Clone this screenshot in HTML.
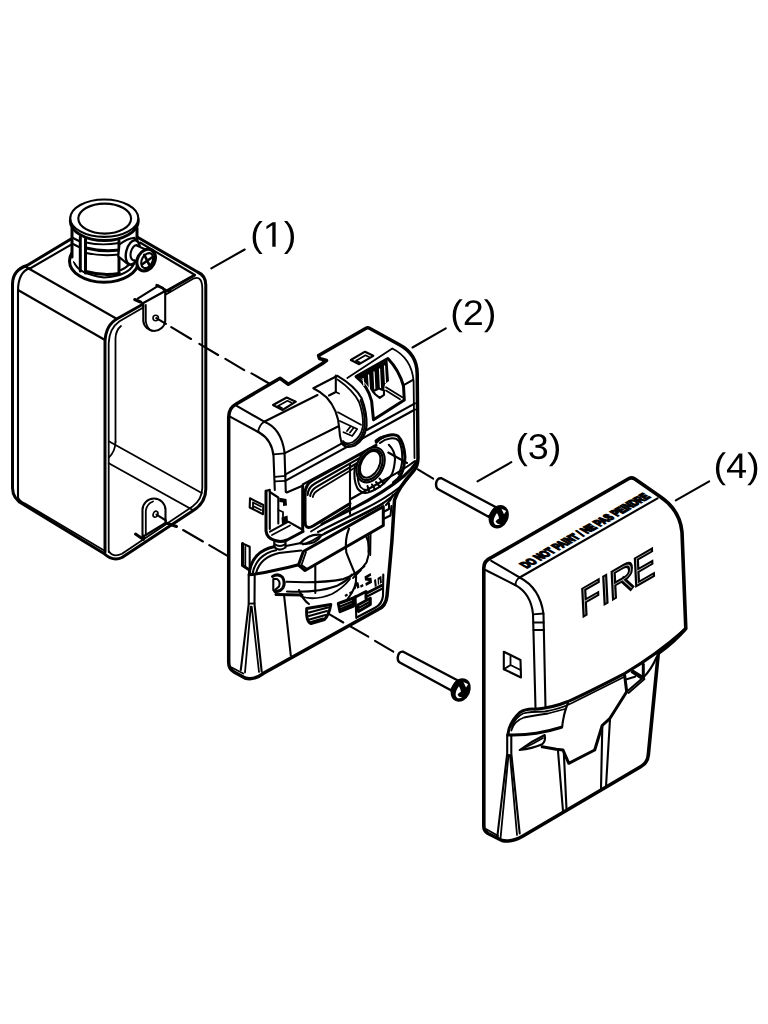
<!DOCTYPE html>
<html><head><meta charset="utf-8">
<style>
html,body{margin:0;padding:0;background:#fff;}
body{width:768px;height:1024px;overflow:hidden;font-family:"Liberation Sans",sans-serif;}
svg{display:block;position:absolute;left:0;top:0;}
.t{fill:none;stroke:#000;stroke-width:3;stroke-linecap:round;stroke-linejoin:round;}
.m{fill:none;stroke:#000;stroke-width:2.1;stroke-linecap:round;stroke-linejoin:round;}
.n{fill:none;stroke:#000;stroke-width:1.8;stroke-linecap:round;stroke-linejoin:round;}
.w{fill:#fff;}
text{font-family:"Liberation Sans",sans-serif;fill:#000;}
</style></head><body>
<svg width="768" height="1024" viewBox="0 0 768 1024">
<rect width="768" height="1024" fill="#fff"/>
<!-- ===== PART 1 : BACK BOX ===== -->
<g id="box">
<!-- outer silhouette -->
<path class="t" d="M71,239 L27,265.5 Q12.7,270 12.5,284 L12.5,488 Q12.7,499 23.5,504.5 L104,553.5 Q113,562 122,557.5 L192.5,511 Q205.8,503 205.8,489 L205.8,285 Q205.8,275.5 197.5,272 L138,237.5"/>
<path class="m" d="M30,268.5 L72.5,243.8 M140,242.5 L195,275"/>
<!-- left face fillet lines -->
<path class="m" d="M26,267 L117,319"/>
<path class="m" d="M18,290 L105,340"/>
<path class="m" d="M18,497 L18,291 Q18,272 30,268"/>
<path class="n" d="M18,497 Q19,501 25,503.5 L105,551"/>
<!-- front rim -->
<path class="t" d="M105,552 L105,342 Q105.5,325 117.5,318.5 L194,275.5"/>
<path class="n" d="M108.7,552 L108.7,343 Q109.3,328.5 119.5,321.3 L194,278.3 Q202.3,275.5 202.3,289 L202.3,488 Q202,499.5 192.5,506.5 L122,553.8 Q113,558 108.7,551"/>
<path class="n" d="M115.5,442 L115.5,338 Q116,330 121,326"/>
<path class="n" d="M115.5,442 Q115,452 108.8,457.5"/>
<path class="n" d="M108.8,441.3 L201.7,493"/>
<path class="n" d="M108.8,463.3 L192.5,509.8"/>
</g>
<!-- hub -->
<g id="hub">
<!-- base flange -->
<ellipse class="t w" cx="104" cy="261" rx="34.5" ry="21.3"/>
<path class="m" d="M74,262 Q78,274 104,277.5 Q128,276 134,264"/>
<!-- body -->
<path class="w" d="M71.6,222 L71.6,258 Q80,272 104,274 Q128,272 137,258 L137,222 Z"/>
<path class="t" d="M72,228 L72,257"/>
<path class="t" d="M137,228 L137,243"/>
<path class="t" d="M80.3,237 L80.3,271"/>
<path class="t" d="M85.5,239 L85.5,273"/>
<path class="t" d="M119,241 L119,274"/>
<path class="t" d="M86,271.5 Q102,276 119,273.5"/>
<path class="n" d="M86,242.5 Q102,246 119,243"/>
<path class="t" d="M86,248 Q102,252 119,250"/>
<path class="n" d="M86,253 Q102,256.5 119,254.5"/>
<path class="m" d="M73,238 L79,241 M73,244 L79,247"/>
<path class="m" d="M121,270 Q130,266 134,258"/>
<!-- rim -->
<ellipse class="t w" cx="104.3" cy="220.7" rx="34" ry="19.8"/>
<ellipse class="m w" cx="104.3" cy="218.2" rx="34" ry="18.7"/>
<ellipse class="m" cx="104.7" cy="218.6" rx="26.4" ry="15"/>
<!-- boss -->
<path class="m w" d="M119.5,244.5 Q127,238.5 134.5,237.8 L139,250 L132,265 L127.6,264 L118.3,256.4 Z"/>
<ellipse class="m w" style="stroke-width:2.4" cx="132.8" cy="252.4" rx="6.6" ry="12.4" transform="rotate(14 132.8 252.4)"/>
<ellipse class="m w" cx="135.3" cy="252.8" rx="4.5" ry="7.8" transform="rotate(14 135.3 252.8)"/>
<path class="w" d="M136.5,246 L145,249.5 L140,264.5 L134.8,260 Z"/>
<path class="m" d="M136.8,245.6 L144.5,249"/>
<path class="m" d="M134.6,260.3 L139.5,264"/>
<ellipse class="t w" style="stroke-width:3.2" cx="146.1" cy="260.1" rx="8.6" ry="11.4" transform="rotate(28 146.1 260.1)"/>
<ellipse class="m" cx="147.2" cy="260.6" rx="5.3" ry="8" transform="rotate(28 147.2 260.6)"/>
<path d="M144.3,254.8 L150.3,266.8 M142.6,264 L152.2,257.2" fill="none" stroke="#000" stroke-width="2.6" stroke-linecap="round"/>
</g>
<!-- ears -->
<g id="ears">
<path class="w" d="M139.7,302.5 L162.5,289.5 L158.5,285.3 L136.5,298.5 Z"/>
<path class="m" d="M137.7,298.7 L158.5,285.6"/>
<path class="m w" d="M143.3,303 L143.3,321 A11,11 0 0 0 165.2,321 L165.2,291 Z"/>
<path class="n" d="M145.8,305 L145.8,321 Q146.5,328 152,331"/>
<path class="t" d="M134.7,299.5 L140.5,302"/>
<path class="m" d="M140.5,302 Q143.5,303 143.3,307"/>
<path class="t" d="M156.8,285.3 L162.5,288"/>
<path class="m" d="M162.5,288 L165.2,292 M162.5,288 L168.5,291.7 L170.3,290"/>
<circle cx="155.7" cy="318" r="2.7" fill="#fff" stroke="#000" stroke-width="1.6"/>
<path class="m w" d="M142.5,537 L142.5,510 A11.5,11.5 0 0 1 165.5,510 L165.5,523 Z"/>
<path class="n" d="M145.8,534 L145.8,511 Q146.5,504 153,501.5"/>
<path class="t" d="M135.5,534 L143.5,539.5 L143.5,536"/>
<path class="t" d="M166,522.8 L176.5,526.5"/>
<ellipse cx="155.5" cy="514.2" rx="2.3" ry="3.1" transform="rotate(20 155.5 514.2)" fill="#fff" stroke="#000" stroke-width="1.6"/>
</g>
<!--P2--><!-- ===== PART 2 : MOUNTING PLATE ===== -->
<g id="plate">
<!-- silhouette -->
<path class="t w" style="stroke-width:3.5" d="M228.7,662 L228.7,417 Q228.7,408 235.8,404.2 L280,378.3 L288.3,384.2 L322,363.7 L326.5,360.5 L319.5,358.5 L318.6,355.4 L366,328.3 Q367.8,327.4 369.5,328.3 L399,344.5 Q417.2,354 417.2,374 L418,458 Q418,466 413.5,471 Q398,488 394.5,500 L392,540 L387,596 Q386,606 378,609.5 L263.5,673.3 Q254,680.5 245,678 L234,672 Q228.7,669 228.7,662 Z"/>
<!-- top face -->
<path class="m" d="M236.7,405.8 L264.2,421.7 L317.5,395"/>
<path class="m" d="M230,416.7 L259.2,432.5"/>
<path class="m" d="M264.2,421.7 Q281,428 284.5,452 L285.8,492"/>
<path class="m" d="M259.2,432.5 Q252,426 264.2,421.7" style="display:none"/>
<path class="m" d="M259.2,432.5 Q272,440 273.5,456 L274.8,490"/>
<path class="n" d="M258,432 Q259,425 264.2,421.7"/>
<path class="n" d="M273.5,454.3 L284.4,453.4 M275,476.8 L285.6,475.8 M275,481.4 L285.7,480.8"/>
<path class="m" d="M284.4,453.4 L337.5,426.7"/>
<path class="m" d="M285.6,474.4 L341.5,443.7 M366.7,430 L415,403.3"/>
<path class="m" d="M285.7,480.7 L415,409.5"/>
<!-- small square holes -->
<path class="m" d="M273,405 L286.7,397.5 L295.8,401.7 L282.5,410 Z"/>
<path class="n" d="M278,406 L287.5,400.8 L291.5,402.8 M278,406 L282,408"/>
<path class="m" d="M350.8,360 L365,351.7 L373.3,355.8 L359.2,364.2 Z"/>
<path class="n" d="M356,360.8 L365.5,355.3 L369.5,357.2 M356,360.8 L360,362.6"/>
<!-- right inner outline -->
<path class="n" d="M347.3,378 L392.3,348.5 Q411.5,358 413.6,381 L414.5,458"/>
<path class="m" d="M404.1,384.8 L413,379.8"/>
<!-- crescent cut-out -->
<path class="m w" d="M313.3,388.3 L337.5,375.8 Q355,386 361.5,398 Q367,412 366.6,426 Q364.5,440 354.7,445.5 Q346,449 341.7,443.3 Q339.5,436 339.2,428 Q338,410 326.7,397.5 Q321,392 313.3,388.3 Z"/>
<path class="n" d="M337.5,379.5 Q353,390 359,402 Q363.5,414 363,426 Q361,437 353,442 Q346,445 343,441"/>
<path class="n" d="M360.5,400 Q365.2,413 364.8,426 Q363,438.5 354,443.8 Q347,447 342.5,442.5"/>
<path class="m" d="M335.8,375.5 L335.8,392 L329,395.5"/>
<path class="n" d="M335.8,392 L339,393.5"/>
<path class="n" d="M338,412.3 L361,424.8"/>
<path class="n" d="M339.8,421 L357.2,429 L352.2,436 L343.5,432.2"/>
<path class="n" d="M347,431 L350.5,426.5 M350,432.5 L353.5,428"/>
<!-- terminal cavity -->
<path class="t" d="M356,376.6 L387.9,358.5 Q399,370 403.5,386 L404.3,400 L373.5,419.8 L371.6,401 Q368,386 356,376.6 Z"/>
<path d="M357.5,376.8 L387.5,360 L389,381 L385,384 L384,391 L373,393.5 Q366,382 357.5,376.8 Z" fill="#000"/>
<path d="M363,378 L364,386 M368.5,374.5 L369.5,390 M374,371.5 L375,393 M379.5,368.5 L380.5,389 M384.5,365.5 L385.5,383" stroke="#fff" stroke-width="1.2" fill="none"/>
<path class="m w" d="M373.5,391 L379,388.5 L384,390.4 L384,394.8 L379.8,397.9 L374.8,394 Z"/>
<path class="n" d="M386,387.3 L402.3,397.3 M386,390.5 L400,399.2"/>

<!-- window -->
<path class="t" d="M305,522.5 L305,494 Q305,484.5 313,480 L376,445.2"/>
<path class="m" d="M307.6,495 Q308,487.5 315,483.5 L376,448.6"/>
<path class="m" d="M310.2,496 Q311,490 317,486.6 L376,452"/>
<path class="n" d="M312.8,497 Q313.5,492.5 319,489.6 L375,455.6"/>
<path class="m" d="M302.7,484.5 L340,464.5"/>
<path class="t" d="M305,522.5 Q305.5,530 313,526 L350,503.5"/>
<path class="n" d="M311,531.5 L350,507"/>
<path class="m" d="M350,464 L350,514"/>
<!-- bracket -->
<path class="t" d="M266,491 L266,531 Q267,538.5 275,540.5 Q281,542.5 287,540 L303,531.5"/>
<path class="t" d="M302.7,486 L302.7,531"/>
<path class="m" d="M266,491 L269.8,489.8 L269.8,529"/>
<path class="m" d="M269.8,492 L278.3,497.5 L278.3,523.5"/>
<path class="m" d="M286.7,492.5 L302.5,485.8"/>
<path class="m" d="M270,531.7 L288.3,521.7 L303,530"/>
<path class="n" d="M272,535 L290,525.5"/>
<path d="M279.3,497.8 L286.5,499 L287,505.5 L283,506 L283,502.5 L279.3,502 Z M281.5,517.5 L287.5,515.5 L288,521.5 L282,524.5 Z" fill="#000"/>
<path class="n" d="M278.3,510 L283,512 L283,517"/>
<!-- neck -->
<path class="m" d="M274.3,541 L274.3,547 Q279,552 285.5,547.5 L285.5,541.5"/>
<path class="n" d="M274.3,544 Q280,548 285.5,544"/>
<!-- arch -->
<path class="t" d="M249.2,574.5 Q250,563 257,555.5 Q264,548.5 274,546.8"/>
<path class="m" d="M252.5,574 Q254,565 260,558.5 Q267,552 276,550.3"/>
<path class="m" d="M256,573.5 Q258,565 264,560 Q270,555 279,553 L301,550.5"/>
<path class="t" d="M249.2,574.8 Q262,573.5 275,570.3 Q287,568 298.5,564.8"/>
<path class="m" d="M285.8,546 L301,543"/>
<path class="m" d="M300,543.3 Q310,533 321.7,535 Q315,546 300,543.3 Z"/>
<path class="n" d="M303,544.5 Q313,541 320,536"/>
<!-- bar -->
<path class="t" d="M303.3,551.5 L298.5,565 L305,570.5 L383.3,525.5 L383.3,506.5 Z" />
<path class="n" d="M306,552 L301.5,565 L306.5,568.5"/>
<path class="m" d="M325,533.3 L383.3,503.5"/>
<!-- chin curves -->
<path class="m" d="M350,499.5 L386,479 Q403,470 415,461"/>
<path class="t" d="M322,524 L352,509 Q385,492 404,476 Q412,469 416.5,462"/>
<path class="m" d="M318,532 L355,513.5 Q384,500 400,487 Q408,480 413,471"/>
<path class="m" d="M322,535 L356,518 Q384,505 397,492"/>
<path class="m" d="M383.3,512 L389,509 L389,501 M383.3,519 L390.5,515.5 L391.5,506 M386,505 Q391,500 393,495"/>
<!-- lens -->
<path class="t" d="M376.3,442.3 Q381,437 387,435.8 Q394,433.5 398,436 Q404,442 405,457 Q404.5,468 401,474.5 Q398,480 393.5,482.5"/>
<path class="m" d="M380,443 Q385,439 390,438.5 Q396,437.5 399,441 Q402.5,448 402.3,458 Q402,468 398.5,474"/>
<path class="m" d="M388.8,444.8 Q395,451 395,459 Q394.5,468 392,474 Q389,479 385,482.3"/>
<path class="m" d="M355,466 Q353,480 357.5,488.5 Q362,494 368,492.5 Q378,489.5 385,482.3"/>
<path class="n" d="M358,470 Q356.5,481 360.5,487 Q364,491 369,489.5"/>
<ellipse class="m w" cx="370.6" cy="464.8" rx="12.8" ry="18.5" transform="rotate(27 370.6 464.8)"/>
<ellipse class="m" cx="370.6" cy="464.8" rx="10.8" ry="16.3" transform="rotate(27 370.6 464.8)"/>
<ellipse class="m" cx="370.2" cy="464.3" rx="9" ry="14.3" transform="rotate(27 370.2 464.3)"/>
<path class="t" d="M376,441 Q380,437.5 383.5,437"/>
<path class="m" d="M367.5,486 L369,491 M372,484.5 L375,489.5 M376,482 L380,487 M379.5,478.5 L384,483.5"/>

<!-- side details -->
<path class="m" d="M250,498.3 L263.3,505 L263,514.2 L249.7,507.5 Z"/>
<path class="n" d="M253,502.5 L253,508.3 M253,502.5 L261,506.5 M253,506 L261,510"/>
<path class="t" d="M242.5,543.5 L242.5,565.5 L249.5,570"/>
<path class="m" d="M242.5,543.5 L249.7,546.7 L249.7,570"/>
<path class="n" d="M245.3,547 L245.3,566"/>
<!-- lower column & V rib -->
<path class="m" d="M248.7,575 L248.7,604.2 L240.8,670"/>
<path class="m" d="M254.7,574 L254.5,604.2 L261.7,671.7"/>
<path class="n" d="M248.7,603.7 L254.6,603.5"/>
<path class="n" d="M250.8,606.7 L245,672.5 M251.7,606.7 L259,672"/>
<path class="n" d="M231.7,667.5 L243.3,673.5"/>
<path class="m" d="M284.2,596.7 L290.8,655.5"/>
<!-- D ring -->
<path class="t" d="M272.5,576.5 Q278,573 282.3,577 Q285.8,582.5 282.8,588 Q280,592 275,591.5"/>
<path class="m" d="M273.3,579 L273.3,590 L276.5,593.5 M273.3,579 L277,579 Q281,582 279,586.5 L275.5,589.5"/>
<path class="t" d="M276,594.5 L302,595"/>
<!-- horizontal bar from ring -->
<path class="m" d="M286.5,581.8 Q320,583.5 343.4,579.1 Q360,573 366.6,562.2 Q372,548 365.9,535.5"/>
<path class="m" d="M315.3,566 L315.3,593"/>
<path class="m" d="M287,591.5 Q318,593 336.4,586.1 Q347,581 352,574.5"/>
<!-- dome -->
<path class="m" d="M349,528.5 Q344.5,540 346.3,552.3 Q350,562 356.1,576.3 Q357,587 347.7,598.8"/>
<path class="n" d="M370.6,534 L370.3,555 M368.6,536 L368.4,552"/>
<path class="n" d="M301,596.5 Q315,601 332,594 Q343,588 350,579"/>
<path class="n" d="M357.5,572 L364.5,566.4 M353,578 L361,570"/>
<path class="m" d="M299,590 Q303,600 309,604"/>
<!-- vents -->
<path class="t" d="M306.7,608.5 L330.8,604.5 Q329,615 324.5,619.5 L311,623.5 Q306,622 306.7,608.5 Z"/>
<path class="m" d="M309,612.5 L328,607.5 M309,616 L327,611 M309.5,619.5 L325.5,615 M311,622 L323,618.5"/>
<path class="t" d="M338.3,603.5 L353.5,598 L353.5,606 L340,611.7 Z"/>
<path class="m" d="M340,606.5 L352.5,601.5 M340.5,609 L352.5,604"/>
<path class="t" d="M357.8,605 L370.3,598.3 L370.3,604.5 L358.5,611.5 Z"/>
<path class="m" d="M359.5,607.5 L369.5,602"/>
<path class="t" d="M353.5,598 L366,591.5 L366,598.5 M366,593.5 L381.5,585.5"/>
<path class="m" d="M366,597 L382.5,588.5"/>
<path class="m" d="M355.5,596 L356.3,618"/>
<!-- blobs (small text) -->
<path transform="translate(-1.5,7)" d="M346,588 l2.5,-1.5 l1,2 l-2.5,1.5z M350.5,585.5 l2.5,-1.5 l1,2 l-2.5,1.5z M355,582 l3,-7 l2,0.5 l1,5 l-2.2,1.3 l-0.8,-3 l-1,3.5z M361.5,578.5 l2.8,-1.5 l0.8,2.2 l-2.8,1.5z M366,569.5 l6,-3.5 l0.8,2.5 l-3.8,2.2 l4,0 l0.5,5 l-6,3.2 l-0.8,-2.6 l3.8,-2.2 l-4,-0.5z M375.5,573 l2,-1 l0.8,7 l-2,1z M379,571 l3.8,-2.2 l0.6,7 l-1.8,1 l-0.4,-4.5 l-0.8,0.5 l0.4,4.5 l-1.4,0.8z" fill="#000"/>
<!-- right inner edge lower -->
<path class="m" d="M383.3,574.5 L383,596 Q382,604 375.5,607.5 L357.5,617"/>
</g>
<!--/P2-->
<!--P34--><!-- ===== PART 3 : SCREWS ===== -->
<g id="screws">
<path class="m w" style="stroke-width:2.4" d="M496,507.3 L441.5,478.3 Q436.8,477.5 436,484 Q436,488 438.2,489.2 L489,517 Z"/>
<g transform="translate(0,0)">
<ellipse cx="498.75" cy="516.8" rx="9.6" ry="12.2" transform="rotate(25 498.75 516.8)" fill="#000"/>
<path d="M497,513 Q493.3,518 493.7,522 Q495,527 501,523.9 Q497.2,525 495.6,521.6 Q496.6,519.6 499,518.5 Q498.6,515.5 497,513 Z" fill="#fff"/>
<path d="M501.5,508.8 L506.2,511 L504,514.3 Z" fill="#fff"/>
</g>
<path class="m w" style="stroke-width:2.4" d="M457.9,680.5 L403.2,651.7 Q398.5,651 397.7,657.5 Q397.7,661.5 399.8,662.5 L450.9,690.2 Z"/>
<g transform="translate(-38.05,173.2)">
<ellipse cx="498.75" cy="516.8" rx="9.6" ry="12.2" transform="rotate(25 498.75 516.8)" fill="#000"/>
<path d="M497,513 Q493.3,518 493.7,522 Q495,527 501,523.9 Q497.2,525 495.6,521.6 Q496.6,519.6 499,518.5 Q498.6,515.5 497,513 Z" fill="#fff"/>
<path d="M501.5,508.8 L506.2,511 L504,514.3 Z" fill="#fff"/>
</g>
</g>
<!-- ===== PART 4 : COVER ===== -->
<g id="cover">
<path class="t w" style="stroke-width:3.6" d="M483.8,826 L483.8,568 Q483.8,561 490.5,558 L629,478.5 Q631.7,477 634.5,478.8 L660,496.5 Q680,510 682,532 L685.8,628.5 Q674,642 658.3,653.3 L648.3,755 Q647.5,763 641,766.5 L523,836 Q512,842.5 502,840.5 L488,833.5 Q483.8,831 483.8,826 Z"/>
<!-- top face lines -->
<path class="m" d="M491.3,560.8 L519.7,577.5 L657.5,498.3"/>
<path class="m" d="M485.5,570 L515.5,585.2"/>
<path class="n" d="M515.5,585.2 Q515.5,580 519.7,577.5"/>
<path class="m" d="M519.7,577.5 Q540,588 543.5,614 L545.5,708"/>
<path class="m" d="M515.5,585.2 Q531,594 533,614 L535.5,708"/>
<path class="n" d="M533,614.3 L543.5,613.5 M533.3,622.5 L543.7,622.5 M533.5,630 L544,630"/>
<g transform="matrix(1,-0.575,0.05,1,583.8,614.9)">
<path d="M1.2,0 L1.2,-25 L14.7,-25 M1.2,-12.7 L13.6,-12.7 M22.2,0 L22.2,-25 M30.6,0 L30.6,-25 L41,-25 Q47.6,-25 47.6,-18.7 Q47.6,-12.5 41,-12.5 L30.6,-12.5 M39.5,-12.5 L47.5,0 M68.7,0 L53.8,0 L53.8,-25 L68,-25 M53.8,-12.7 L67.7,-12.7" fill="none" stroke="#000" stroke-width="5" stroke-linecap="square" stroke-linejoin="miter"/>
<path d="M1.2,0 L1.2,-25 L14.7,-25 M1.2,-12.7 L13.6,-12.7 M22.2,0 L22.2,-25 M30.6,0 L30.6,-25 L41,-25 Q47.6,-25 47.6,-18.7 Q47.6,-12.5 41,-12.5 L30.6,-12.5 M39.5,-12.5 L47.5,0 M68.7,0 L53.8,0 L53.8,-25 L68,-25 M53.8,-12.7 L67.7,-12.7" fill="none" stroke="#c4c4c4" stroke-width="0.8" stroke-linecap="square" stroke-linejoin="miter"/>
</g>
<text transform="matrix(0.87,-0.5,1.05,0.6,526.5,568.6)" font-size="10.5" font-weight="bold" textLength="143" lengthAdjust="spacingAndGlyphs" stroke="#000" stroke-width="1.5">DO NOT PAINT / NE PAS PEINDRE</text>
<!-- square hole -->
<path class="m" d="M503.8,651.7 L520.5,660 L521,677.5 L503.8,669.2 Z"/>
<path class="n" d="M510.5,656 L510.5,665 L520.5,670 M503.8,669.2 L510.5,665"/>
<!-- swoosh -->
<path class="t" d="M508,734 Q509.5,722 519.7,712.5 Q526,708.5 535,709.2 Q552,708 568,701.5 Q588,692.5 625,673.3 Q656,655 684.5,630"/>
<path class="n" d="M512,727 Q515,717.5 523,713.5 Q530,711.5 545,711.5 Q560,709 572,703 L625,676.5"/>
<path class="t" d="M508,735 Q523,735.5 536.3,733.3 Q550,731 561.5,727.3"/>
<path class="m" d="M568,703 Q564.5,712 563.5,718 Q562.5,723 562.2,727"/>
<path class="n" d="M511.3,730.5 Q514,721 524,717.5 Q534,715.5 548,713.5 L565,709"/>
<path class="m" d="M519.7,750 Q532,741 544.7,735 Q546,741 542.2,744.2 Q532,748.5 519.7,750 Z"/>
<path class="n" d="M523,748.5 Q533,744 543,738"/>
<path class="t" d="M542.2,746.8 L556.3,749.2 L563,750 L568.8,763.3 L594.7,750 L602.2,725.5 L610,718.3 L626.7,691.7 L624.6,675"/>
<path class="t" d="M643.3,664.2 L643.3,678"/>
<path class="m" d="M632.5,670.3 L641.7,676.2 M631.7,672 L640.9,678 M626.7,679.2 L635,676.7"/>
<path class="m" d="M656.7,657 Q651,670 643.3,677.5 L627,691.5"/>
<path class="n" d="M644.5,679 L628.5,693"/>
<!-- vertical ribs -->
<path class="m" d="M558,751 L563,811 M563.8,752 L566.5,809"/>
<path class="m" d="M602.3,727 L601,788.5 M610,719 L606,786.5"/>
<path class="m" d="M507.2,735 L507.2,753.5 L497.2,837.5 M511.3,735 L511.3,753.5 L519.7,833.5"/>
<path class="n" d="M508.5,755 L500.5,838.5 M510,755 L517,835"/>
<path class="n" d="M486.3,829.2 L498,835.8"/>
</g>
<!--/P34-->
<!-- dashed centre lines -->
<g id="dash">
<path class="m" d="M156.3,318.1 L166,323.8 M171.3,327.1 L191,339 M199.4,343.8 L218.1,355 M225.4,358.8 L244.2,370.2 M251.5,373.3 L270,384"/>
<path class="m" d="M156.5,514.6 L166,520.5 M183.1,530 L202.9,541.5 M209.2,545.2 L227.5,555.8"/>
<path class="m" d="M388.3,452.5 L407,463 M417.8,469.3 L433.2,478.7"/>
<path class="m" d="M329.2,614.2 L343.3,622.5 M350.8,626.7 L368.3,636.7 M375,640.8 L393.3,651.7"/>
</g>
<!-- leaders & labels -->
<g id="labels">
<path class="m" d="M211.3,268.3 L244.7,249.5"/>
<path class="m" d="M412.5,347.5 L445.8,328.3"/>
<path class="m" d="M477.5,481.3 L511.3,462.2"/>
<path class="m" d="M675.8,500.3 L709.2,481.3"/>
<g transform="translate(250.25,246.7) scale(0.018425,-0.017383)" fill="#000"><path d="M127 532Q127 821 217.5 1051.0Q308 1281 496 1484H670Q483 1276 395.5 1042.0Q308 808 308 530Q308 253 394.5 20.0Q481 -213 670 -424H496Q307 -220 217.0 10.5Q127 241 127 528Z"/><path transform="translate(682,0)" d="M515 0V1237L197 1010V1180L530 1409H696V0Z"/><path transform="translate(1821,0)" d="M555 528Q555 239 464.5 9.0Q374 -221 186 -424H12Q200 -214 287.0 18.5Q374 251 374 530Q374 809 286.5 1042.0Q199 1275 12 1484H186Q375 1280 465.0 1049.5Q555 819 555 532Z"/></g><g transform="translate(450.25,325) scale(0.018425,-0.017383)" fill="#000"><path d="M127 532Q127 821 217.5 1051.0Q308 1281 496 1484H670Q483 1276 395.5 1042.0Q308 808 308 530Q308 253 394.5 20.0Q481 -213 670 -424H496Q307 -220 217.0 10.5Q127 241 127 528Z"/><path transform="translate(682,0)" d="M103 0V127Q154 244 227.5 333.5Q301 423 382.0 495.5Q463 568 542.5 630.0Q622 692 686.0 754.0Q750 816 789.5 884.0Q829 952 829 1038Q829 1154 761.0 1218.0Q693 1282 572 1282Q457 1282 382.5 1219.5Q308 1157 295 1044L111 1061Q131 1230 254.5 1330.0Q378 1430 572 1430Q785 1430 899.5 1329.5Q1014 1229 1014 1044Q1014 962 976.5 881.0Q939 800 865.0 719.0Q791 638 582 468Q467 374 399.0 298.5Q331 223 301 153H1036V0Z"/><path transform="translate(1821,0)" d="M555 528Q555 239 464.5 9.0Q374 -221 186 -424H12Q200 -214 287.0 18.5Q374 251 374 530Q374 809 286.5 1042.0Q199 1275 12 1484H186Q375 1280 465.0 1049.5Q555 819 555 532Z"/></g><g transform="translate(515.25,458.8) scale(0.018425,-0.017383)" fill="#000"><path d="M127 532Q127 821 217.5 1051.0Q308 1281 496 1484H670Q483 1276 395.5 1042.0Q308 808 308 530Q308 253 394.5 20.0Q481 -213 670 -424H496Q307 -220 217.0 10.5Q127 241 127 528Z"/><path transform="translate(682,0)" d="M1049 389Q1049 194 925.0 87.0Q801 -20 571 -20Q357 -20 229.5 76.5Q102 173 78 362L264 379Q300 129 571 129Q707 129 784.5 196.0Q862 263 862 395Q862 510 773.5 574.5Q685 639 518 639H416V795H514Q662 795 743.5 859.5Q825 924 825 1038Q825 1151 758.5 1216.5Q692 1282 561 1282Q442 1282 368.5 1221.0Q295 1160 283 1049L102 1063Q122 1236 245.5 1333.0Q369 1430 563 1430Q775 1430 892.5 1331.5Q1010 1233 1010 1057Q1010 922 934.5 837.5Q859 753 715 723V719Q873 702 961.0 613.0Q1049 524 1049 389Z"/><path transform="translate(1821,0)" d="M555 528Q555 239 464.5 9.0Q374 -221 186 -424H12Q200 -214 287.0 18.5Q374 251 374 530Q374 809 286.5 1042.0Q199 1275 12 1484H186Q375 1280 465.0 1049.5Q555 819 555 532Z"/></g><g transform="translate(713.55,478) scale(0.018425,-0.017383)" fill="#000"><path d="M127 532Q127 821 217.5 1051.0Q308 1281 496 1484H670Q483 1276 395.5 1042.0Q308 808 308 530Q308 253 394.5 20.0Q481 -213 670 -424H496Q307 -220 217.0 10.5Q127 241 127 528Z"/><path transform="translate(682,0)" d="M881 319V0H711V319H47V459L692 1409H881V461H1079V319ZM711 1206Q709 1200 683.0 1153.0Q657 1106 644 1087L283 555L229 481L213 461H711Z"/><path transform="translate(1821,0)" d="M555 528Q555 239 464.5 9.0Q374 -221 186 -424H12Q200 -214 287.0 18.5Q374 251 374 530Q374 809 286.5 1042.0Q199 1275 12 1484H186Q375 1280 465.0 1049.5Q555 819 555 532Z"/></g>
</g>
</svg>
</body></html>
